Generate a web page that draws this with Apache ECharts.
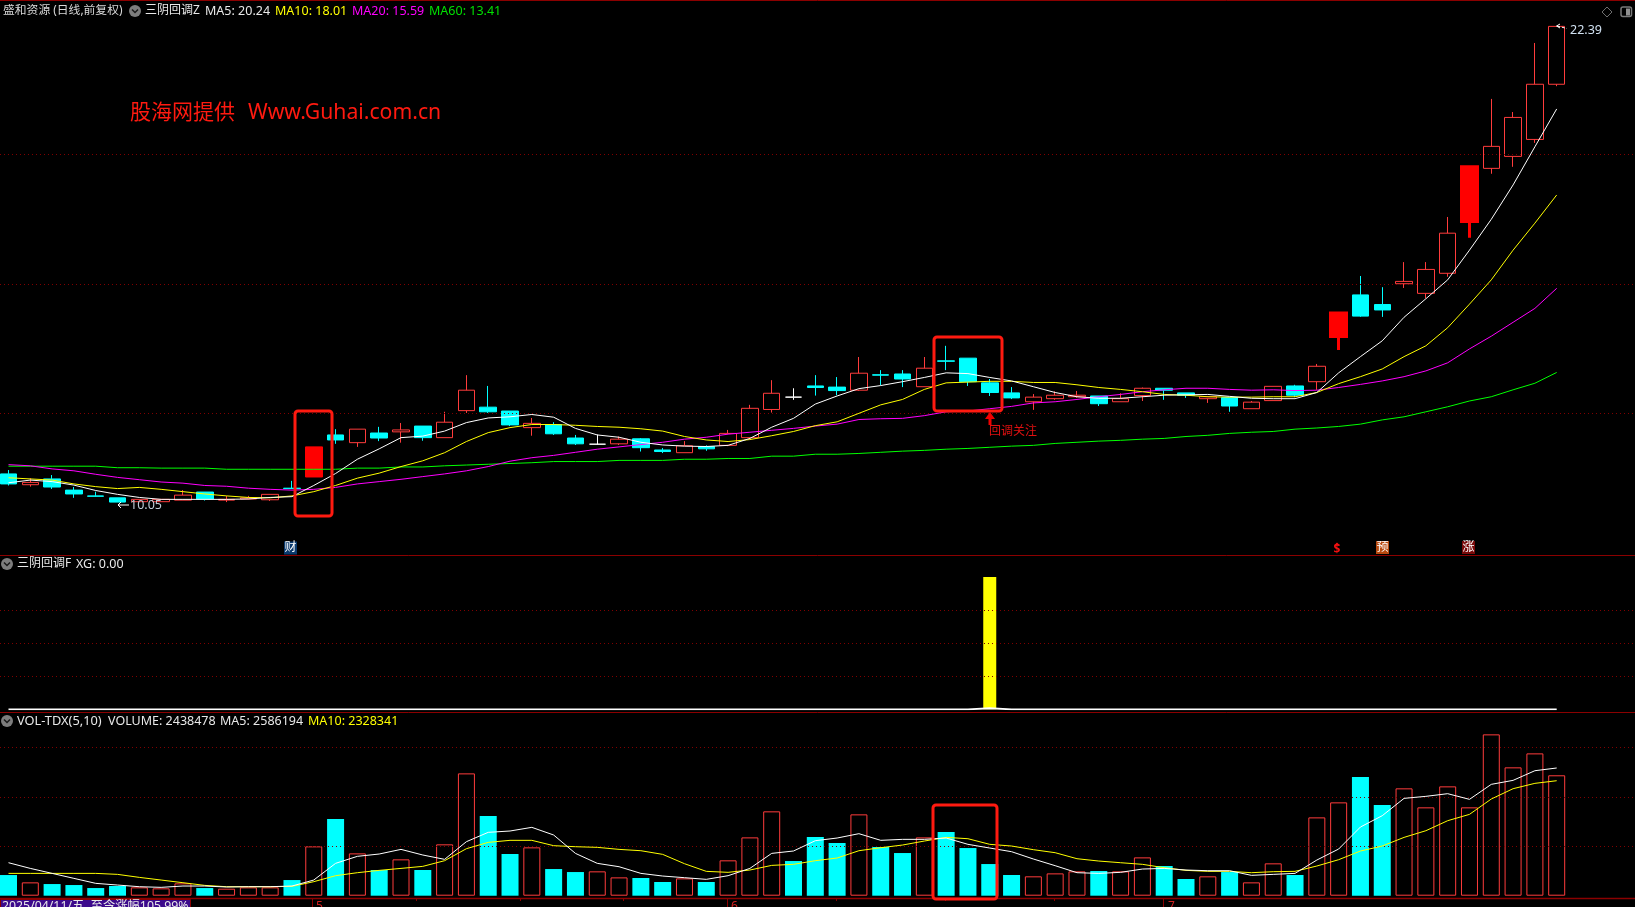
<!DOCTYPE html>
<html><head><meta charset="utf-8">
<style>html,body{margin:0;padding:0;background:#000;overflow:hidden}#c{width:1635px;height:907px}</style>
<script src="https://cdn.jsdelivr.net/npm/echarts@6/dist/echarts.min.js"></script>
</head><body><div id="c"></div>
<script>
const opens=[10.78,10.50,10.65,10.36,10.21,10.16,10.06,10.06,10.10,10.31,10.10,10.13,10.11,10.41,10.70,11.79,11.59,11.84,11.87,12.02,11.72,12.42,12.51,12.41,11.98,12.06,11.71,11.55,11.56,11.69,11.40,11.33,11.49,11.52,11.72,12.45,12.77,13.06,13.03,12.95,13.35,13.37,13.04,13.71,13.78,13.14,12.88,12.65,12.73,12.78,12.80,12.65,12.81,13.00,12.88,12.73,12.76,12.47,12.68,13.06,13.17,14.34,15.42,15.17,15.71,15.46,15.98,17.32,18.70,19.01,19.45,20.88];
const closes=[10.52,10.56,10.44,10.26,10.20,10.05,10.12,10.12,10.23,10.13,10.12,10.16,10.25,10.40,11.48,11.66,11.94,11.71,11.92,11.72,12.12,12.95,12.39,12.05,12.09,11.82,11.56,11.55,11.68,11.46,11.36,11.51,11.43,11.83,12.48,12.87,12.77,13.02,12.94,13.39,13.34,13.24,13.52,13.70,13.17,12.89,12.75,12.77,12.82,12.82,12.60,12.73,13.00,12.95,12.82,12.78,12.54,12.64,13.05,12.82,13.57,14.95,14.87,15.03,15.77,16.08,17.02,18.74,19.27,20.02,20.88,22.38];
const lows=[10.48,10.45,10.39,10.16,10.19,10.05,10.06,10.06,10.10,10.09,10.05,10.12,10.08,10.39,10.70,11.56,11.48,11.63,11.59,11.64,11.72,12.36,12.36,12.02,11.77,11.79,11.53,11.54,11.53,11.36,11.32,11.33,11.38,11.50,11.69,12.37,12.70,12.81,12.82,12.93,13.08,13.03,13.04,13.47,13.06,12.80,12.72,12.44,12.70,12.75,12.54,12.65,12.67,12.70,12.75,12.62,12.39,12.47,12.68,12.77,12.96,13.99,14.85,14.85,15.60,15.33,15.89,16.90,18.56,18.74,19.36,20.83];
const highs=[10.88,10.67,10.75,10.44,10.32,10.16,10.12,10.13,10.36,10.31,10.21,10.21,10.25,10.60,11.48,11.94,11.94,12.00,12.10,12.02,12.39,13.34,13.06,12.41,12.23,12.12,11.79,11.80,11.75,11.71,11.45,11.63,11.52,11.92,12.57,13.21,13.00,13.34,13.29,13.81,13.47,13.47,13.81,14.10,13.78,13.24,13.03,12.85,12.92,12.93,12.80,12.87,13.02,13.00,12.88,12.80,12.76,12.67,13.05,13.09,13.63,14.95,15.91,15.62,16.27,16.27,17.44,18.74,20.50,20.16,21.95,22.39];
const ma5=[10.55,10.62,10.58,10.49,10.35,10.25,10.17,10.12,10.12,10.12,10.12,10.13,10.17,10.19,10.48,10.79,11.16,11.43,11.72,11.76,11.89,12.11,12.23,12.26,12.32,12.25,11.96,11.79,11.73,11.60,11.53,11.50,11.49,11.52,11.70,11.99,12.22,12.59,12.80,12.99,13.07,13.17,13.28,13.40,13.38,13.28,13.19,13.04,12.89,12.78,12.74,12.74,12.78,12.82,12.83,12.84,12.79,12.74,12.73,12.73,12.89,13.40,13.82,14.23,14.84,15.32,15.81,16.58,17.38,18.27,19.26,20.24];
const ma10=[10.68,10.65,10.62,10.52,10.45,10.40,10.43,10.38,10.32,10.26,10.21,10.17,10.16,10.21,10.32,10.48,10.67,10.80,10.97,11.12,11.33,11.62,11.85,11.98,12.06,12.06,12.04,12.01,11.99,11.95,11.89,11.75,11.66,11.62,11.67,11.77,11.88,12.03,12.13,12.35,12.57,12.71,12.97,13.14,13.16,13.18,13.18,13.15,13.15,13.09,13.02,12.97,12.91,12.84,12.82,12.78,12.77,12.77,12.78,12.78,12.89,13.12,13.30,13.50,13.82,14.10,14.57,15.18,15.81,16.58,17.28,18.01];
const ma20=[11.02,10.99,10.91,10.86,10.77,10.69,10.63,10.57,10.54,10.48,10.46,10.41,10.38,10.36,10.38,10.43,10.52,10.58,10.64,10.71,10.78,10.86,10.97,11.11,11.20,11.26,11.34,11.42,11.48,11.54,11.60,11.68,11.73,11.81,11.86,11.91,11.96,12.02,12.07,12.19,12.21,12.22,12.29,12.39,12.41,12.47,12.53,12.62,12.65,12.71,12.78,12.84,12.91,12.96,13.00,13.00,12.97,12.95,12.96,12.94,12.95,13.02,13.10,13.19,13.30,13.45,13.66,14.02,14.35,14.71,15.07,15.59];
const ma60=[10.98,10.98,10.98,10.98,10.98,10.94,10.94,10.93,10.93,10.93,10.90,10.90,10.90,10.90,10.90,10.90,10.93,10.93,10.96,10.96,10.99,11.01,11.03,11.05,11.07,11.10,11.10,11.10,11.13,11.13,11.13,11.16,11.16,11.18,11.18,11.24,11.24,11.29,11.29,11.31,11.34,11.37,11.39,11.42,11.44,11.47,11.50,11.52,11.57,11.60,11.63,11.65,11.68,11.70,11.75,11.78,11.83,11.86,11.88,11.94,11.97,12.01,12.07,12.18,12.26,12.39,12.52,12.67,12.78,12.96,13.13,13.41];
const solidRedDays=[14,61,67];
const thickWickDays=[61,67];
const whiteDojiDays=[27,36];
const xgBars=[0,0,0,0,0,0,0,0,0,0,0,0,0,0,0,0,0,0,0,0,0,0,0,0,0,0,0,0,0,0,0,0,0,0,0,0,0,0,0,0,0,0,0,0,0,1,0,0,0,0,0,0,0,0,0,0,0,0,0,0,0,0,0,0,0,0,0,0,0,0,0,0];
const xgLine=[0,0,0,0,0,0,0,0,0,0,0,0,0,0,0,0,0,0,0,0,0,0,0,0,0,0,0,0,0,0,0,0,0,0,0,0,0,0,0,0,0,0,0,0,0,0.008,0,0,0,0,0,0,0,0,0,0,0,0,0,0,0,0,0,0,0,0,0,0,0,0,0,0];
const volume=[418500,270000,236000,216000,155000,196000,169000,149000,250000,155000,142000,169000,169000,317000,999000,1552000,857000,520000,736000,520000,1040000,2477000,1613000,844000,979000,540000,479000,493000,371000,358000,277000,351000,277000,716000,1181000,1708000,702000,1188000,1067000,1647000,986000,864000,1181000,1289000,965000,641000,419000,392000,452000,493000,500000,493000,776000,601000,338000,392000,479000,270000,655000,419000,1586000,1890000,2403000,1836000,2174000,1789000,2214000,1789000,3267000,2599000,2882000,2438478];
const volDownDays=[0,2,3,4,5,9,13,15,17,19,22,23,25,26,29,30,32,36,37,38,40,41,43,44,45,46,50,53,54,56,59,62,63];
const volMa5=[668000,553000,452000,351000,250000,216000,182000,169000,196000,196000,176000,182000,182000,196000,317000,655000,797000,844000,938000,824000,736000,1094000,1283000,1310000,1384000,1229000,857000,655000,587000,452000,398000,365000,331000,405000,553000,857000,905000,1114000,1168000,1256000,1121000,1141000,1141000,1168000,1040000,965000,891000,743000,608000,466000,452000,473000,540000,553000,520000,506000,506000,412000,432000,452000,722000,945000,1391000,1620000,1971000,2012000,2066000,1951000,2255000,2336000,2531000,2586194];
const volMa10=[452000,452000,452000,452000,452000,432000,371000,317000,263000,209000,182000,182000,182000,189000,284000,405000,466000,513000,553000,594000,709000,952000,1080000,1121000,1121000,1013000,992000,979000,938000,911000,837000,648000,493000,473000,520000,614000,635000,709000,763000,911000,972000,1026000,1107000,1181000,1154000,1040000,1006000,932000,871000,749000,702000,668000,635000,567000,513000,493000,493000,466000,486000,493000,601000,729000,905000,1006000,1181000,1316000,1519000,1647000,1958000,2167000,2275000,2328341];
const priceGridLevels=[19.06,15.69,12.35];
const xgGridLevels=[0.25,0.5,0.75];
const volGridLevels=[1000000,2000000,3000000];
const days=opens.map((_,i)=>String(i));
const monthLabels=[['5',316],['6',731],['7',1168]];

const FONT="'Noto Sans','Noto Sans CJK SC',sans-serif";
const SEP='#8b0000', GRIDC='#800000';
const candleData=opens.map((o,i)=>{
  const it={value:[o,closes[i],lows[i],highs[i]]};
  if(solidRedDays.includes(i)) it.itemStyle={color:'#ff0000',borderColor:'#ff0000',borderWidth:thickWickDays.includes(i)?3:1};
  if(whiteDojiDays.includes(i)) it.itemStyle={borderColorDoji:'#ffffff',borderColor:'#ffffff',borderColor0:'#ffffff'};
  return it;
});
const volData=volume.map((v,i)=>volDownDays.includes(i)?{value:v,itemStyle:{color:'#00ffff',borderWidth:0}}:{value:v,itemStyle:{color:'#000',borderColor:'#ff3c3c',borderWidth:1}});
const gridMarks=(lv)=>({silent:true,symbol:'none',label:{show:false},animation:false,lineStyle:{color:GRIDC,type:[1,3],width:1},data:lv.map(v=>({yAxis:v}))});
const line=(name,data,color,xi,width)=>({name,type:'line',data,xAxisIndex:xi,yAxisIndex:xi,showSymbol:false,symbol:'none',silent:true,z:5,lineStyle:{color,width:width||1},animation:false});

const T=(x,y,text,fill,size,extra)=>({type:'text',silent:true,z:100,style:Object.assign({x,y,text,fill,font:(size||12.5)+'px '+FONT,textVerticalAlign:'middle',verticalAlign:'middle',textBaseline:'middle'},extra||{})});
const L=(x1,y1,x2,y2,stroke,w,dash)=>({type:'line',silent:true,z:90,shape:{x1,y1,x2,y2},style:{stroke,lineWidth:w||1,lineDash:dash||null}});
const box=(x,y,w,h)=>({type:'rect',silent:true,z:110,shape:{x,y,width:w,height:h,r:3},style:{fill:'none',stroke:'#ff1a10',lineWidth:3}});
const badge=(x,y,ch,bg)=>[{type:'rect',silent:true,z:100,shape:{x,y,width:13,height:13},style:{fill:bg}},
  T(x+6.5,y+6.5,ch,'#ffffff',12,{textAlign:'center',align:'center'})];
const chevron=(cx,cy)=>[{type:'circle',silent:true,z:100,shape:{cx,cy,r:6},style:{fill:'#7d7d7d'}},
  {type:'polyline',silent:true,z:101,shape:{points:[[cx-3,cy-1.5],[cx,cy+1.5],[cx+3,cy-1.5]]},style:{stroke:'#1a1a1a',fill:'none',lineWidth:1.5}}];

const graphic=[
  L(0,0.5,1635,0.5,SEP,1),L(0,555.5,1635,555.5,SEP,1),L(0,712.5,1635,712.5,SEP,1),L(0,898.5,1635,898.5,SEP,1.5),
  T(3,11,'盛和资源 (日线,前复权)','#d8d8d8',11.8),...chevron(135,11),
  T(145,11,'三阴回调Z','#e8e8e8',12),T(205,11,'MA5: 20.24','#e8e8e8'),T(275,11,'MA10: 18.01','#ffff00'),T(352,11,'MA20: 15.59','#ff00ff'),T(429,11,'MA60: 13.41','#00e000'),
  T(130,113,'股海网提供','#ff1a10',21),T(248,113,'Www.Guhai.com.cn','#ff1a10',21.2),
  ...chevron(7,564),T(17,564,'三阴回调F','#e8e8e8',12),T(76,564,'XG: 0.00','#e8e8e8'),
  ...chevron(7,721),T(17,721,'VOL-TDX(5,10)','#e8e8e8',12.8),T(108,721,'VOLUME: 2438478','#e8e8e8'),T(220,721,'MA5: 2586194','#e8e8e8'),T(308,721,'MA10: 2328341','#ffff00'),
  box(295,411,37,105),box(934,337,68,74),box(933,805,64,94),
  T(989,432,'回调关注','#e01010',12),
  {type:'polygon',silent:true,z:100,shape:{points:[[990,412],[995,419],[991.5,419],[991.5,425],[988.5,425],[988.5,419],[985,419]]},style:{fill:'#f00000'}},
  T(1570,30,'22.39','#d0e0f0',12.5),L(1557,26,1567,28.5,'#ffffff',1,[3,2]),
  {type:'polyline',silent:true,z:100,shape:{points:[[1560,24],[1556.5,26],[1560,28]]},style:{stroke:'#fff',fill:'none',lineWidth:1}},
  T(130,505,'10.05','#c0ccd8',12.5),L(118,505,129,505,'#ffffff',1),
  {type:'polyline',silent:true,z:100,shape:{points:[[121,502],[118,505],[121,508]]},style:{stroke:'#fff',fill:'none',lineWidth:1}},
  ...badge(284,541.5,'财','#0a3a6e'),...badge(1376,541,'预','#b84a10'),...badge(1462,541,'涨','#7a0a0a'),
  T(1337,550,'$','#f01010',12,{textAlign:'center',align:'center',font:'bold 12px '+FONT}),
  {type:'polygon',silent:true,z:100,shape:{points:[[1337,542.5],[1340,545.5],[1334,545.5]]},style:{fill:'#f01010'}},
  L(1607,7,1612,12,'#6e6e6e'),L(1612,12,1607,17,'#6e6e6e'),L(1607,17,1602,12,'#6e6e6e'),L(1602,12,1607,7,'#6e6e6e'),
  {type:'rect',silent:true,z:100,shape:{x:1621,y:7,width:10.5,height:9.5,r:2},style:{fill:'none',stroke:'#7a7a7a',lineWidth:1.5}},
  {type:'rect',silent:true,z:100,shape:{x:1626,y:8.5,width:4,height:7},style:{fill:'#909090'}},
  {type:'rect',silent:true,z:100,shape:{x:0.5,y:899.5,width:190,height:9},style:{fill:'#3c0a8c',stroke:SEP,lineWidth:1}},
  {type:'text',silent:true,z:101,style:{x:2,y:900,text:'2025/04/11/五  至今涨幅105.99%',fill:'#e8e8e8',font:'12.3px '+FONT,verticalAlign:'top',textVerticalAlign:'top'}},
  ...monthLabels.map(m=>({type:'text',silent:true,z:100,style:{x:m[1],y:901,text:m[0],fill:'#d02020',font:'12px '+FONT,verticalAlign:'top',textVerticalAlign:'top'}})),
  L(312.5,898,312.5,907,SEP),L(727.5,898,727.5,907,SEP),L(1163.5,898,1163.5,907,SEP),
  ...[416,520,623,836,945,1054].map(x=>L(x+.5,898,x+.5,901,SEP))
];

const dataGrid={left:8.5,width:1548.2,containLabel:false};
const fullGrid={left:0,right:0,containLabel:false};
const panes=[{top:0,height:555,min:8.678,max:23.064},{top:555,height:154.3,min:0,max:1.166},{top:712,height:183.7,min:0,max:3720000}];
const xAxisBase=(i,gap)=>({type:'category',data:days,gridIndex:i,boundaryGap:gap,show:false});
const yAxisBase=(i,p)=>({type:'value',gridIndex:i,min:p.min,max:p.max,show:false,scale:false,splitLine:{show:false}});
const gridLevels=[priceGridLevels,xgGridLevels,volGridLevels];
const option={
  backgroundColor:'#000000',animation:false,
  tooltip:{show:false},legend:{show:false},
  grid:[...panes.map(p=>Object.assign({top:p.top,height:p.height},dataGrid)),...panes.map(p=>Object.assign({top:p.top,height:p.height},fullGrid))],
  xAxis:[0,1,2].map(i=>xAxisBase(i,false)).concat([3,4,5].map(i=>xAxisBase(i,true))),
  yAxis:[0,1,2].map(i=>yAxisBase(i,panes[i])).concat([3,4,5].map(i=>yAxisBase(i,panes[i-3]))),
  series:[
    ...[3,4,5].map(i=>({name:'grid'+i,type:'line',data:[],xAxisIndex:i,yAxisIndex:i,z:1,markLine:gridMarks(gridLevels[i-3])})),
    {name:'K',type:'candlestick',data:candleData,xAxisIndex:0,yAxisIndex:0,barWidth:17,z:3,silent:true,animation:false,clip:false,
      itemStyle:{color:'#000000',color0:'#00ffff',borderColor:'#ff3c3c',borderColor0:'#00ffff',borderColorDoji:'#ffffff',borderWidth:1}},
    line('MA60',ma60,'#00ff00',0),line('MA20',ma20,'#ff00ff',0),line('MA10',ma10,'#ffff00',0),line('MA5',ma5,'#ffffff',0),
    {name:'XGBar',type:'bar',data:xgBars,xAxisIndex:1,yAxisIndex:1,barWidth:13,z:3,silent:true,clip:false,itemStyle:{color:'#ffff00'}},
    line('XG',xgLine,'#ffffff',1,1.8),
    {name:'VOL',type:'bar',data:volData,xAxisIndex:2,yAxisIndex:2,barWidth:17,z:3,silent:true,clip:false},
    line('VMA10',volMa10,'#ffff00',2),line('VMA5',volMa5,'#ffffff',2)
  ],
  graphic:{elements:graphic}
};
echarts.init(document.getElementById('c'),null,{renderer:'canvas'}).setOption(option);
</script></body></html>
